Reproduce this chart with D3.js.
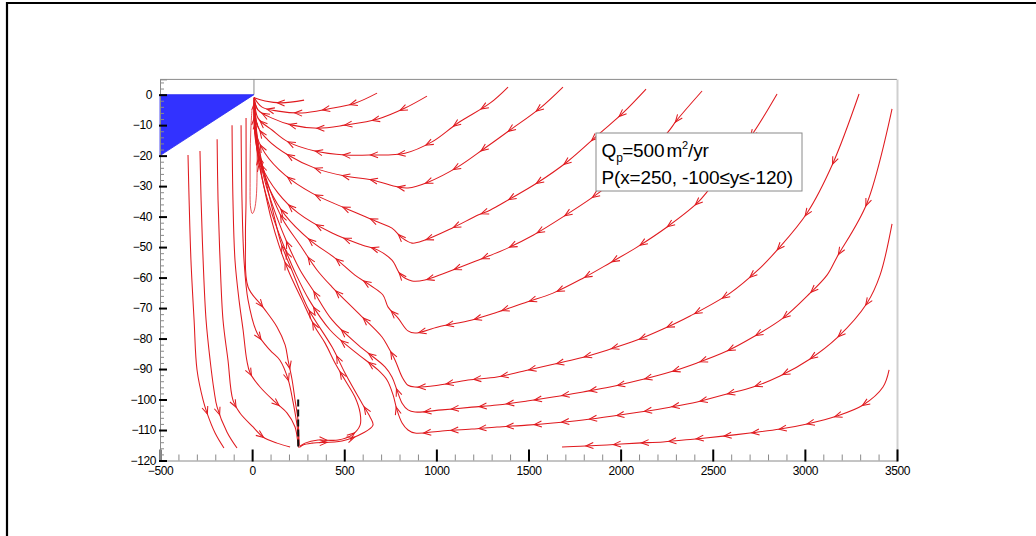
<!DOCTYPE html>
<html>
<head>
<meta charset="utf-8">
<script src="https://cdn.jsdelivr.net/npm/d3@7"></script>
<style>
  html, body { margin: 0; padding: 0; background: #fff; }
  svg { display: block; }
  text { font-family: "Liberation Sans", Arial, Helvetica, sans-serif; }
</style>
</head>
<body>
<svg id="chart" width="1036" height="536"></svg>
<script>
// ---- axis ticks ----
const xTicks = [-500, 0, 500, 1000, 1500, 2000, 2500, 3000, 3500];
const yTicks = [0, -10, -20, -30, -40, -50, -60, -70, -80, -90, -100, -110, -120];

// ---- geometry: well wedge and injection segment ----
const wellWedge = [[-500, 0], [10, 0], [-500, -20]];
const sourceX = 250;
const sourceY = [-100, -116];

// ---- streamlines (x, y) in flow order ----
const streamR1 = [[282,-1.8],[160,-2.7],[70,-2.1],[12,-1]];
const streamR2 = [[678,0.5],[558,-2.8],[412,-4.7],[271,-6.0],[141,-5.4],[54,-4.1],[12,-1]];
const streamR3 = [[949,-0.5],[830,-4.4],[683,-8.0],[504,-10.0],[358,-11.0],[217,-10.0],[108,-7.7],[32,-5.0],[12,-1]];
const streamR4 = [[1389,2.5],[1291,-2.8],[1117,-9.3],[976,-15.5],[830,-19.2],[651,-19.8],[504,-19.8],[341,-18.5],[195,-15.5],[108,-11.6],[32,-7.7],[12,-1]];
const streamR5 = [[1687,2.5],[1563,-4.4],[1400,-11.6],[1264,-17.5],[1117,-23.7],[955,-28.7],[846,-30.6],[792,-30.3],[651,-28.0],[504,-26.7],[341,-24.1],[195,-19.8],[86,-14.9],[32,-10.6],[12,-1]];
const streamR6 = [[2138,1.8],[2013,-6.0],[1888,-12.6],[1709,-22.1],[1546,-29.0],[1400,-34.2],[1291,-37.9],[1226,-39.5],[1085,-43.8],[938,-47.7],[868,-48.7],[814,-47.0],[759,-43.8],[683,-41.8],[504,-37.2],[325,-32.3],[179,-26.4],[70,-19.2],[16,-11.6],[12,-1]];
const streamR7 = [[2442,1.2],[2306,-8.3],[2252,-12.6],[2067,-22.4],[1888,-31.9],[1687,-40.1],[1525,-46.1],[1362,-51.0],[1226,-54.3],[1047,-58.5],[938,-60.8],[868,-61.1],[808,-59.2],[759,-54.3],[683,-51.0],[596,-49.3],[434,-45.4],[249,-38.8],[141,-32.3],[54,-23.7],[16,-13.9],[12,-1]];
const streamR8 = [[2849,0.2],[2719,-12.6],[2594,-22.4],[2469,-31.9],[2415,-35.6],[2252,-43.4],[2089,-50.0],[1942,-55.2],[1796,-60.2],[1633,-65.1],[1492,-68.0],[1318,-71.6],[1193,-73.9],[1009,-76.2],[884,-78.2],[846,-77.5],[792,-73.3],[738,-69.7],[710,-65.7],[640,-62.5],[558,-59.2],[450,-53.6],[314,-47.7],[179,-39.5],[97,-31.3],[43,-21.5],[16,-11.6],[12,-1]];
const streamR9 = [[3294,0.2],[3153,-22.4],[3012,-38.8],[2849,-51.0],[2746,-57.5],[2594,-65.1],[2377,-72.6],[2230,-76.9],[2089,-80.5],[1926,-83.8],[1780,-86.4],[1617,-88.7],[1470,-90.7],[1329,-92.6],[1172,-93.6],[1009,-95.3],[884,-95.9],[846,-95.3],[814,-92.6],[776,-87.1],[738,-82.8],[705,-79.5],[575,-71.6],[434,-63.1],[352,-57.5],[260,-49.3],[168,-41.1],[97,-31.3],[48,-21.5],[21,-11.6],[12,-1]];
const streamR10 = [[3473,-4.7],[3337,-35.6],[3174,-53.3],[3120,-59.2],[3028,-65.1],[2881,-73.3],[2719,-79.5],[2577,-84.1],[2415,-88.0],[2268,-91.0],[2105,-93.6],[1942,-95.9],[1796,-97.5],[1633,-99.2],[1492,-100.5],[1329,-101.8],[1193,-102.5],[1031,-103.4],[884,-104.1],[846,-103.4],[814,-101.2],[786,-96.9],[759,-92.6],[721,-89.3],[575,-82.1],[434,-73.9],[330,-64.1],[260,-57.5],[195,-49.3],[130,-39.5],[75,-29.7],[37,-19.8],[16,-10.0],[12,-1]];
const streamR11 = [[3473,-42.4],[3408,-59.2],[3337,-68.4],[3174,-79.8],[3028,-86.7],[2865,-92.3],[2719,-95.9],[2577,-98.2],[2415,-100.8],[2268,-102.5],[2105,-104.1],[1959,-105.4],[1796,-106.7],[1633,-107.7],[1492,-108.4],[1329,-109.0],[1193,-109.7],[1031,-110.3],[884,-111.0],[846,-110.0],[814,-107.7],[786,-103.4],[765,-98.5],[732,-93.6],[683,-90.3],[558,-84.4],[423,-77.2],[310,-67.4],[240,-59.2],[170,-49.3],[110,-39.5],[62,-29.7],[30,-19.8],[14,-10.0],[12,-1]];
const streamR12 = [[3457,-90.3],[3424,-95.9],[3316,-101.8],[3174,-105.4],[3012,-108.0],[2865,-109.7],[2702,-111.0],[2556,-112.0],[2393,-113.0],[2230,-113.9],[2089,-114.3],[1926,-114.9],[1780,-115.3],[1682,-115.6]];

// lines leaving the injection segment and looping back to the well
const streamL1 = [[260,-115.3],[287,-114.3],[358,-113.3],[466,-113.3],[542,-111.6],[586,-108.4],[586,-104.4],[558,-99.2],[504,-93.6],[450,-88.0],[396,-81.5],[341,-76.2],[271,-67.4],[195,-57.5],[145,-49.3],[105,-41.1],[68,-31.3],[36,-21.5],[16,-11.6],[12,-1]];
const streamL2 = [[260,-115.6],[276,-114.9],[325,-114.3],[488,-113.6],[602,-111.0],[656,-108.4],[640,-105.7],[596,-101.2],[504,-91.3],[434,-82.8],[300,-69.7],[215,-57.5],[160,-49.3],[118,-39.5],[80,-29.7],[45,-19.8],[20,-10.0],[12,-1]];

// lines below the wedge running downward
const streamF1 = [[-348,-19.8],[-342,-34.6],[-332,-54.3],[-315,-73.9],[-299,-90.3],[-266,-100.2],[-245,-104.4],[-201,-111.0],[-153,-115.9]];
const streamF2 = [[-283,-18.5],[-277,-34.6],[-266,-54.3],[-250,-73.9],[-228,-87.1],[-207,-96.9],[-190,-102.5],[-136,-110.7],[-82,-115.9]];
const streamF3 = [[-190,-14.6],[-185,-34.6],[-174,-54.3],[-158,-73.9],[-131,-87.1],[-104,-100.2],[-66,-104.4],[5,-109.0],[59,-112.3],[135,-114.3],[206,-115.6]];
const streamF4 = [[-109,-10.0],[-104,-34.6],[-93,-54.3],[-71,-67.4],[-49,-77.2],[-29,-87.1],[-11,-91.3],[43,-95.9],[124,-100.8],[189,-104.4],[233,-109.0],[249,-114.3],[255,-115.9]];
const streamF5 = [[-60,-10.0],[-55,-34.6],[-44,-54.3],[-22,-67.4],[27,-78.2],[97,-83.8],[151,-87.1],[195,-93.3],[222,-100.8],[244,-108.6],[255,-115.3]];
const streamF6 = [[-33,-7.7],[-33,-34.6],[-36,-47.7],[-22,-63.1],[59,-69.7],[135,-76.2],[179,-82.1],[195,-87.1],[217,-93.6],[233,-100.2],[249,-106.7],[255,-114.9]];

// narrow recirculation loop under the well
const streamLoop = [[10,-1.8],[24,-11.6],[27,-24.7],[21,-34.6],[10,-38.2],[1,-39.0],[-8,-37.2],[-11,-28.0],[-10,-18.2],[-6,-10.0],[-1,-5.1]];

const arrowedLines = [streamR1, streamR2, streamR3, streamR4, streamR5, streamR6, streamR7, streamR8,
  streamR9, streamR10, streamR11, streamR12, streamL1, streamL2,
  streamF1, streamF2, streamF3, streamF4, streamF5, streamF6];

// ---- layout ----
const W = 1036, H = 536;
const svg = d3.select("#chart");
const x = d3.scaleLinear().domain([-500, 3500]).range([160, 897]);
const y = d3.scaleLinear().domain([-120, 5]).range([460.5, 79.4]);

// page frame
svg.append("path")
  .attr("d", `M7,${H + 5} L7,3 L${W + 5},3`)
  .attr("fill", "none").attr("stroke", "#000").attr("stroke-width", 2.2);

// plot frame (top and right)
svg.append("line").attr("x1", x(-500)).attr("x2", x(3500)).attr("y1", y(5)).attr("y2", y(5))
  .attr("stroke", "#8a8a8a").attr("stroke-width", 1);
svg.append("line").attr("x1", x(3500) + 0.5).attr("x2", x(3500) + 0.5).attr("y1", y(5)).attr("y2", y(-120))
  .attr("stroke", "#cfcfcf").attr("stroke-width", 2);
svg.append("line").attr("x1", x(10)).attr("x2", x(10)).attr("y1", y(5)).attr("y2", y(0))
  .attr("stroke", "#8a8a8a").attr("stroke-width", 1);

// wedge
svg.append("path")
  .attr("d", "M" + wellWedge.map(d => [x(d[0]), y(d[1])].join(",")).join("L") + "Z")
  .attr("fill", "#3232ff").attr("stroke", "#2a2af0").attr("stroke-width", 0.8);

// streamlines
const line = d3.line().x(d => x(d[0])).y(d => y(d[1])).curve(d3.curveCatmullRom.alpha(0.5));
const gLines = svg.append("g").attr("fill", "none").attr("stroke", "#e01a1f").attr("stroke-width", 1.05);
const gArrows = svg.append("g").attr("fill", "none").attr("stroke", "#e01a1f").attr("stroke-width", 1.05)
  .attr("stroke-linejoin", "miter");

gLines.append("path").attr("d", line(streamLoop)).attr("stroke-width", 0.9).attr("stroke-opacity", 0.85);

// arrowheads sit at equal arc-length steps measured in data units
const ARROW_FIRST = 145, ARROW_STEP = 150, ARM = 8, HALF = 22 * Math.PI / 180;
arrowedLines.forEach(pts => {
  const p = gLines.append("path").attr("d", line(pts));
  const node = p.node();
  const L = node.getTotalLength();
  let prev = node.getPointAtLength(0), acc = 0, next = ARROW_FIRST;
  for (let s = 0.5; s <= L; s += 0.5) {
    const q = node.getPointAtLength(s);
    acc += Math.hypot(x.invert(q.x) - x.invert(prev.x), y.invert(q.y) - y.invert(prev.y));
    if (acc >= next) {
      const b = node.getPointAtLength(Math.max(0, s - 3));
      let ux = q.x - b.x, uy = q.y - b.y;
      const n = Math.hypot(ux, uy) || 1; ux /= n; uy /= n;
      const arm = a => {
        const c = Math.cos(a), sn = Math.sin(a);
        const bx = -ux, by = -uy;
        return [q.x + ARM * (bx * c - by * sn), q.y + ARM * (bx * sn + by * c)];
      };
      const a1 = arm(HALF), a2 = arm(-HALF);
      gArrows.append("path").attr("d", `M${a1[0]},${a1[1]}L${q.x},${q.y}L${a2[0]},${a2[1]}`);
      next += ARROW_STEP;
    }
    prev = q;
  }
});

// injection segment
svg.append("line")
  .attr("x1", x(sourceX)).attr("x2", x(sourceX))
  .attr("y1", y(sourceY[0])).attr("y2", y(sourceY[1]))
  .attr("stroke", "#111").attr("stroke-width", 2).attr("stroke-dasharray", "7,3");

// ---- axes ----
const tickFont = g => g.selectAll("text")
  .attr("font-size", 12).attr("fill", "#000").attr("letter-spacing", "-0.4px");

const xMinor = d3.range(-500, 3501, 100).filter(v => !xTicks.includes(v));
const yMinor = d3.range(-120, 5, 2).filter(v => !yTicks.includes(v));

const gx = svg.append("g").attr("transform", `translate(0,${y(-120)})`);
gx.call(d3.axisBottom(x).tickValues(xMinor).tickSize(-6).tickFormat(""))
  .call(g => g.select(".domain").remove())
  .call(g => g.selectAll("line").attr("stroke", "#8a8a8a"));
const gx2 = svg.append("g").attr("transform", `translate(0,${y(-120)})`);
gx2.call(d3.axisBottom(x).tickValues(xTicks).tickSize(-11).tickPadding(6).tickFormat(d3.format("d")))
  .call(g => g.select(".domain").attr("stroke", "#8a8a8a"))
  .call(g => g.selectAll(".tick line").attr("stroke", "#000").attr("stroke-width", 2))
  .call(tickFont);

const gy = svg.append("g").attr("transform", `translate(${x(-500)},0)`);
gy.call(d3.axisLeft(y).tickValues(yMinor).tickSize(-4).tickFormat(""))
  .call(g => g.select(".domain").remove())
  .call(g => g.selectAll("line").attr("stroke", "#8a8a8a"));
const gy2 = svg.append("g").attr("transform", `translate(${x(-500)},0)`);
gy2.call(d3.axisLeft(y).tickValues(yTicks).tickSize(-7).tickPadding(8).tickFormat(d3.format("d")))
  .call(g => g.select(".domain").attr("stroke", "#8a8a8a"))
  .call(g => g.selectAll(".tick line").attr("stroke", "#000").attr("stroke-width", 2))
  .call(tickFont);
// three-digit labels reach a little closer to the axis
gy2.selectAll(".tick text").attr("x", d => String(d).length >= 4 ? -4 : -8);
// the outer edge of the tick marks sits just outside the axis line
gy2.selectAll(".tick line").attr("x1", -1);
gx2.selectAll(".tick line").attr("y1", 1);

// ---- legend box ----
const lg = svg.append("g");
lg.append("rect").attr("x", 596).attr("y", 133).attr("width", 206).attr("height", 58)
  .attr("fill", "#fff").attr("stroke", "#8a8a8a").attr("stroke-width", 1);
const t1 = lg.append("text").attr("x", 601.5).attr("y", 156.5).attr("font-size", 19)
  .attr("letter-spacing", "-0.15px").attr("fill", "#000");
t1.append("tspan").text("Q");
t1.append("tspan").attr("dy", 5).attr("font-size", 12).text("p");
t1.append("tspan").attr("dx", -0.5).attr("dy", -5).text("=500");
t1.append("tspan").attr("dx", 2).text("m");
t1.append("tspan").attr("dy", -8).attr("font-size", 11).text("2");
t1.append("tspan").attr("dy", 8).text("/yr");
lg.append("text").attr("x", 601.5).attr("y", 183.5).attr("font-size", 19)
  .attr("letter-spacing", "-0.15px").attr("fill", "#000")
  .text("P(x=250, -100\u2264y\u2264-120)");
</script>
</body>
</html>
